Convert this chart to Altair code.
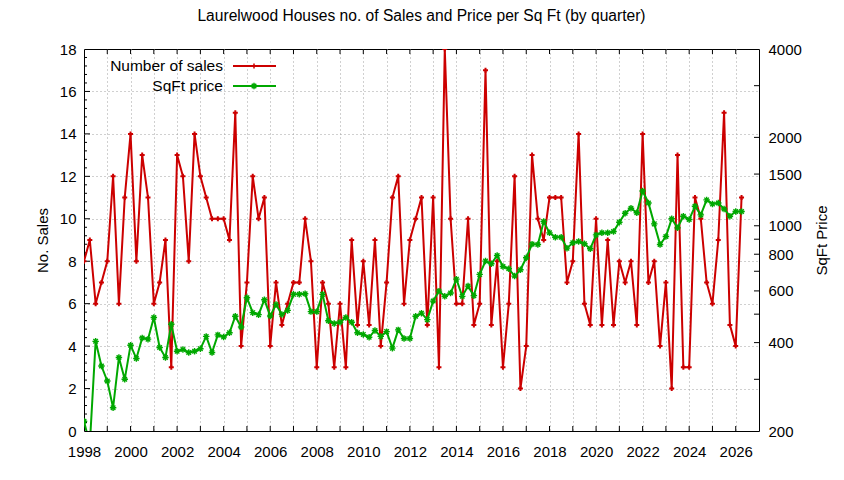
import altair as alt
import pandas as pd

# ---------------- data ----------------
start_year = 1998
sales = [
    8, 9, 6, 7,
    8, 12, 6, 11,
    14, 8, 13, 11,
    6, 7, 9, 3,
    13, 12, 8, 14,
    12, 11, 10, 10,
    10, 9, 15, 4,
    7, 12, 10, 11,
    4, 7, 5, 6,
    7, 7, 10, 8,
    3, 7, 6, 3,
    6, 3, 9, 5,
    8, 5, 9, 4,
    7, 11, 12, 6,
    9, 10, 11, 5,
    11, 3, 18, 10,
    6, 6, 10, 5,
    6, 17, 5, 8,
    3, 6, 12, 2,
    4, 13, 10, 9,
    11, 11, 11, 7,
    8, 14, 6, 5,
    10, 5, 9, 5,
    8, 7, 8, 5,
    14, 7, 8, 4,
    7, 2, 13, 3,
    3, 11, 10, 7,
    6, 9, 15, 5,
    4, 11,
]
price = [
    216, 180, 404, 333,
    296, 240, 356, 300,
    392, 353, 415, 411,
    487, 385, 356, 462,
    374, 379, 370, 374,
    381, 420, 370, 425,
    418, 432, 492, 452,
    569, 506, 498, 560,
    493, 539, 499, 515,
    584, 584, 587, 510,
    510, 584, 475, 465,
    469, 487, 469, 432,
    426, 417, 440, 420,
    436, 383, 442, 413,
    413, 492, 504, 479,
    554, 599, 575, 590,
    658, 575, 623, 578,
    683, 758, 742, 792,
    727, 714, 674, 708,
    778, 866, 863, 1034,
    946, 914, 914, 839,
    875, 884, 868, 835,
    931, 946, 946, 956,
    1028, 1103, 1147, 1107,
    1314, 1196, 1015, 863,
    919, 1056, 984, 1078,
    1050, 1165, 1089, 1225,
    1187, 1196, 1141, 1078,
    1118, 1118,
]
quarters = [start_year + i / 4 for i in range(len(sales))]

legend_names = ["Number of sales", "SqFt price"]
title_text = "Laurelwood Houses no. of Sales and Price per Sq Ft (by quarter)"
left_title = "No. Sales"
right_title = "SqFt Price"

x_label_years = list(range(1998, 2028))
x_tick_years = list(range(1999, 2027))
left_values = [0, 2, 4, 6, 8, 10, 12, 14, 16, 18]
left_minor = [round(k * 0.4, 1) for k in range(1, 45) if k % 5 != 0]
right_values = [200, 400, 600, 800, 1000, 1500, 2000, 4000]
right_minor = [300, 500, 700, 900, 3000]

# ---------------- styling ----------------
W, H = 675, 382
FONT = "Liberation Sans"
FS = 15
RED = "#cc0000"
GREEN = "#00a800"
GRID = "#a0a0a0"
PLUS = "M-1,0L1,0M0,-1L0,1"
STAR = "M-1,0L1,0M0,-1L0,1M-0.7,-0.7L0.7,0.7M-0.7,0.7L0.7,-0.7"

df = pd.DataFrame({"t": quarters, "n": sales, "p": price})

common_axis = dict(labelFont=FONT, labelFontSize=FS, labelColor="black",
                   titleFont=FONT, titleFontSize=FS, titleFontWeight="normal",
                   titleColor="black")

xscale = alt.Scale(domain=[1998, 2027], nice=False, zero=False)
x_axis = alt.Axis(
    values=x_label_years, format="d",
    labelExpr="datum.value % 2 == 0 && datum.value < 2027 ? datum.label : ''",
    labelOverlap=False, labelFlush=False, labelPadding=13,
    ticks=False, domain=False, grid=True, gridDash=[1, 3], gridColor=GRID,
    gridOpacity={"condition": {"test": "datum.value == 1998 || datum.value == 2027", "value": 0}, "value": 1},
    title=None, **common_axis,
)
X = alt.X("t:Q", scale=xscale, axis=x_axis)

yl_scale = alt.Scale(domain=[0, 18], nice=False, zero=False)
yl_axis = alt.Axis(
    values=left_values, format="d", orient="left",
    labelOverlap=False, labelFlush=False, labelPadding=8,
    ticks=False, domain=False, grid=True, gridDash=[1, 3], gridColor=GRID,
    gridOpacity={"condition": {"test": "datum.value == 0 || datum.value == 18", "value": 0}, "value": 1},
    title=left_title, titleX=-42, titleY=H / 2, titleAngle=270,
    titleAlign="center", titleBaseline="middle", **common_axis,
)
YL = alt.Y("n:Q", scale=yl_scale, axis=yl_axis)

yr_scale = alt.Scale(type="log", domain=[200, 4000], nice=False)
yr_axis = alt.Axis(
    values=right_values, format="d", orient="right",
    labelOverlap=False, labelFlush=False, labelPadding=9,
    ticks=False, domain=False, grid=False,
    title=right_title, titleX=62, titleY=H / 2, titleAngle=270,
    titleAlign="center", titleBaseline="middle", **common_axis,
)
YR = alt.Y("p:Q", scale=yr_scale, axis=yr_axis)

# ---------------- left (sales) group ----------------
red_line = alt.Chart(df).mark_line(color=RED, strokeWidth=2, clip=True).encode(x=X, y=YL)
red_pts = alt.Chart(df).mark_point(shape=PLUS, filled=False, color=RED, size=25,
                                   strokeWidth=2, opacity=1, clip=True).encode(x=X, y=YL)

xt = pd.DataFrame({"t": x_tick_years})
xt_bottom = alt.Chart(xt).mark_rule(color="black", strokeWidth=1).encode(
    x=X, y=alt.value(H), y2=alt.value(H - 5))
xt_top = alt.Chart(xt).mark_rule(color="black", strokeWidth=1).encode(
    x=X, y=alt.value(0), y2=alt.value(5))

lmaj = pd.DataFrame({"n": left_values[1:-1]})
lmin = pd.DataFrame({"n": left_minor})
lt_major = alt.Chart(lmaj).mark_rule(color="black", strokeWidth=1).encode(
    y=YL, x=alt.value(0), x2=alt.value(6))
lt_minor = alt.Chart(lmin).mark_rule(color="black", strokeWidth=1).encode(
    y=YL, x=alt.value(0), x2=alt.value(3))

left = alt.layer(lt_major, lt_minor, xt_bottom, xt_top, red_line, red_pts)

# ---------------- right (price) group ----------------
green_line = alt.Chart(df).mark_line(color=GREEN, strokeWidth=2, clip=True).encode(x=X, y=YR)
green_pts = alt.Chart(df).mark_point(shape=STAR, filled=False, color=GREEN, size=42,
                                     strokeWidth=1.4, opacity=1, clip=True).encode(x=X, y=YR)
rmaj = pd.DataFrame({"p": right_values[1:-1]})
rmin = pd.DataFrame({"p": right_minor})
rt_major = alt.Chart(rmaj).mark_rule(color="black", strokeWidth=1).encode(
    y=YR, x=alt.value(W), x2=alt.value(W - 5))
rt_minor = alt.Chart(rmin).mark_rule(color="black", strokeWidth=1).encode(
    y=YR, x=alt.value(W), x2=alt.value(W - 5))

right = alt.layer(rt_major, rt_minor, green_line, green_pts)

# ---------------- legend (gnuplot style: text, then sample) ----------------
legend_layers = []
colors = [RED, GREEN]
shapes = [PLUS, STAR]
sizes = [25, 42]
for i, name in enumerate(legend_names):
    ly = 17 + 20 * i
    one = pd.DataFrame({"label": [name]})
    legend_layers.append(alt.Chart(one).mark_text(
        align="right", baseline="middle", font=FONT, fontSize=15.5, color="black"
    ).encode(text="label:N", x=alt.value(139), y=alt.value(ly)))
    legend_layers.append(alt.Chart(one).mark_rule(color=colors[i], strokeWidth=2).encode(
        x=alt.value(149), x2=alt.value(192), y=alt.value(ly)))
    legend_layers.append(alt.Chart(one).mark_point(
        shape=shapes[i], filled=False, color=colors[i], size=sizes[i], strokeWidth=1.5, opacity=1
    ).encode(x=alt.value(170), y=alt.value(ly)))

chart = alt.layer(left, right, *legend_layers).resolve_scale(y="independent").properties(
    width=W, height=H,
    background="white",
    title=alt.Title(title_text, font=FONT, fontSize=15.6, fontWeight="normal",
                    color="black", anchor="middle", frame="group", offset=17),
    autosize=alt.AutoSizeParams(type="none"),
    padding={"left": 76, "top": 41, "right": 72, "bottom": 40},
).configure_view(stroke="black", strokeWidth=1)

chart.save("out.html", embed_options={"renderer": "svg", "actions": False})
